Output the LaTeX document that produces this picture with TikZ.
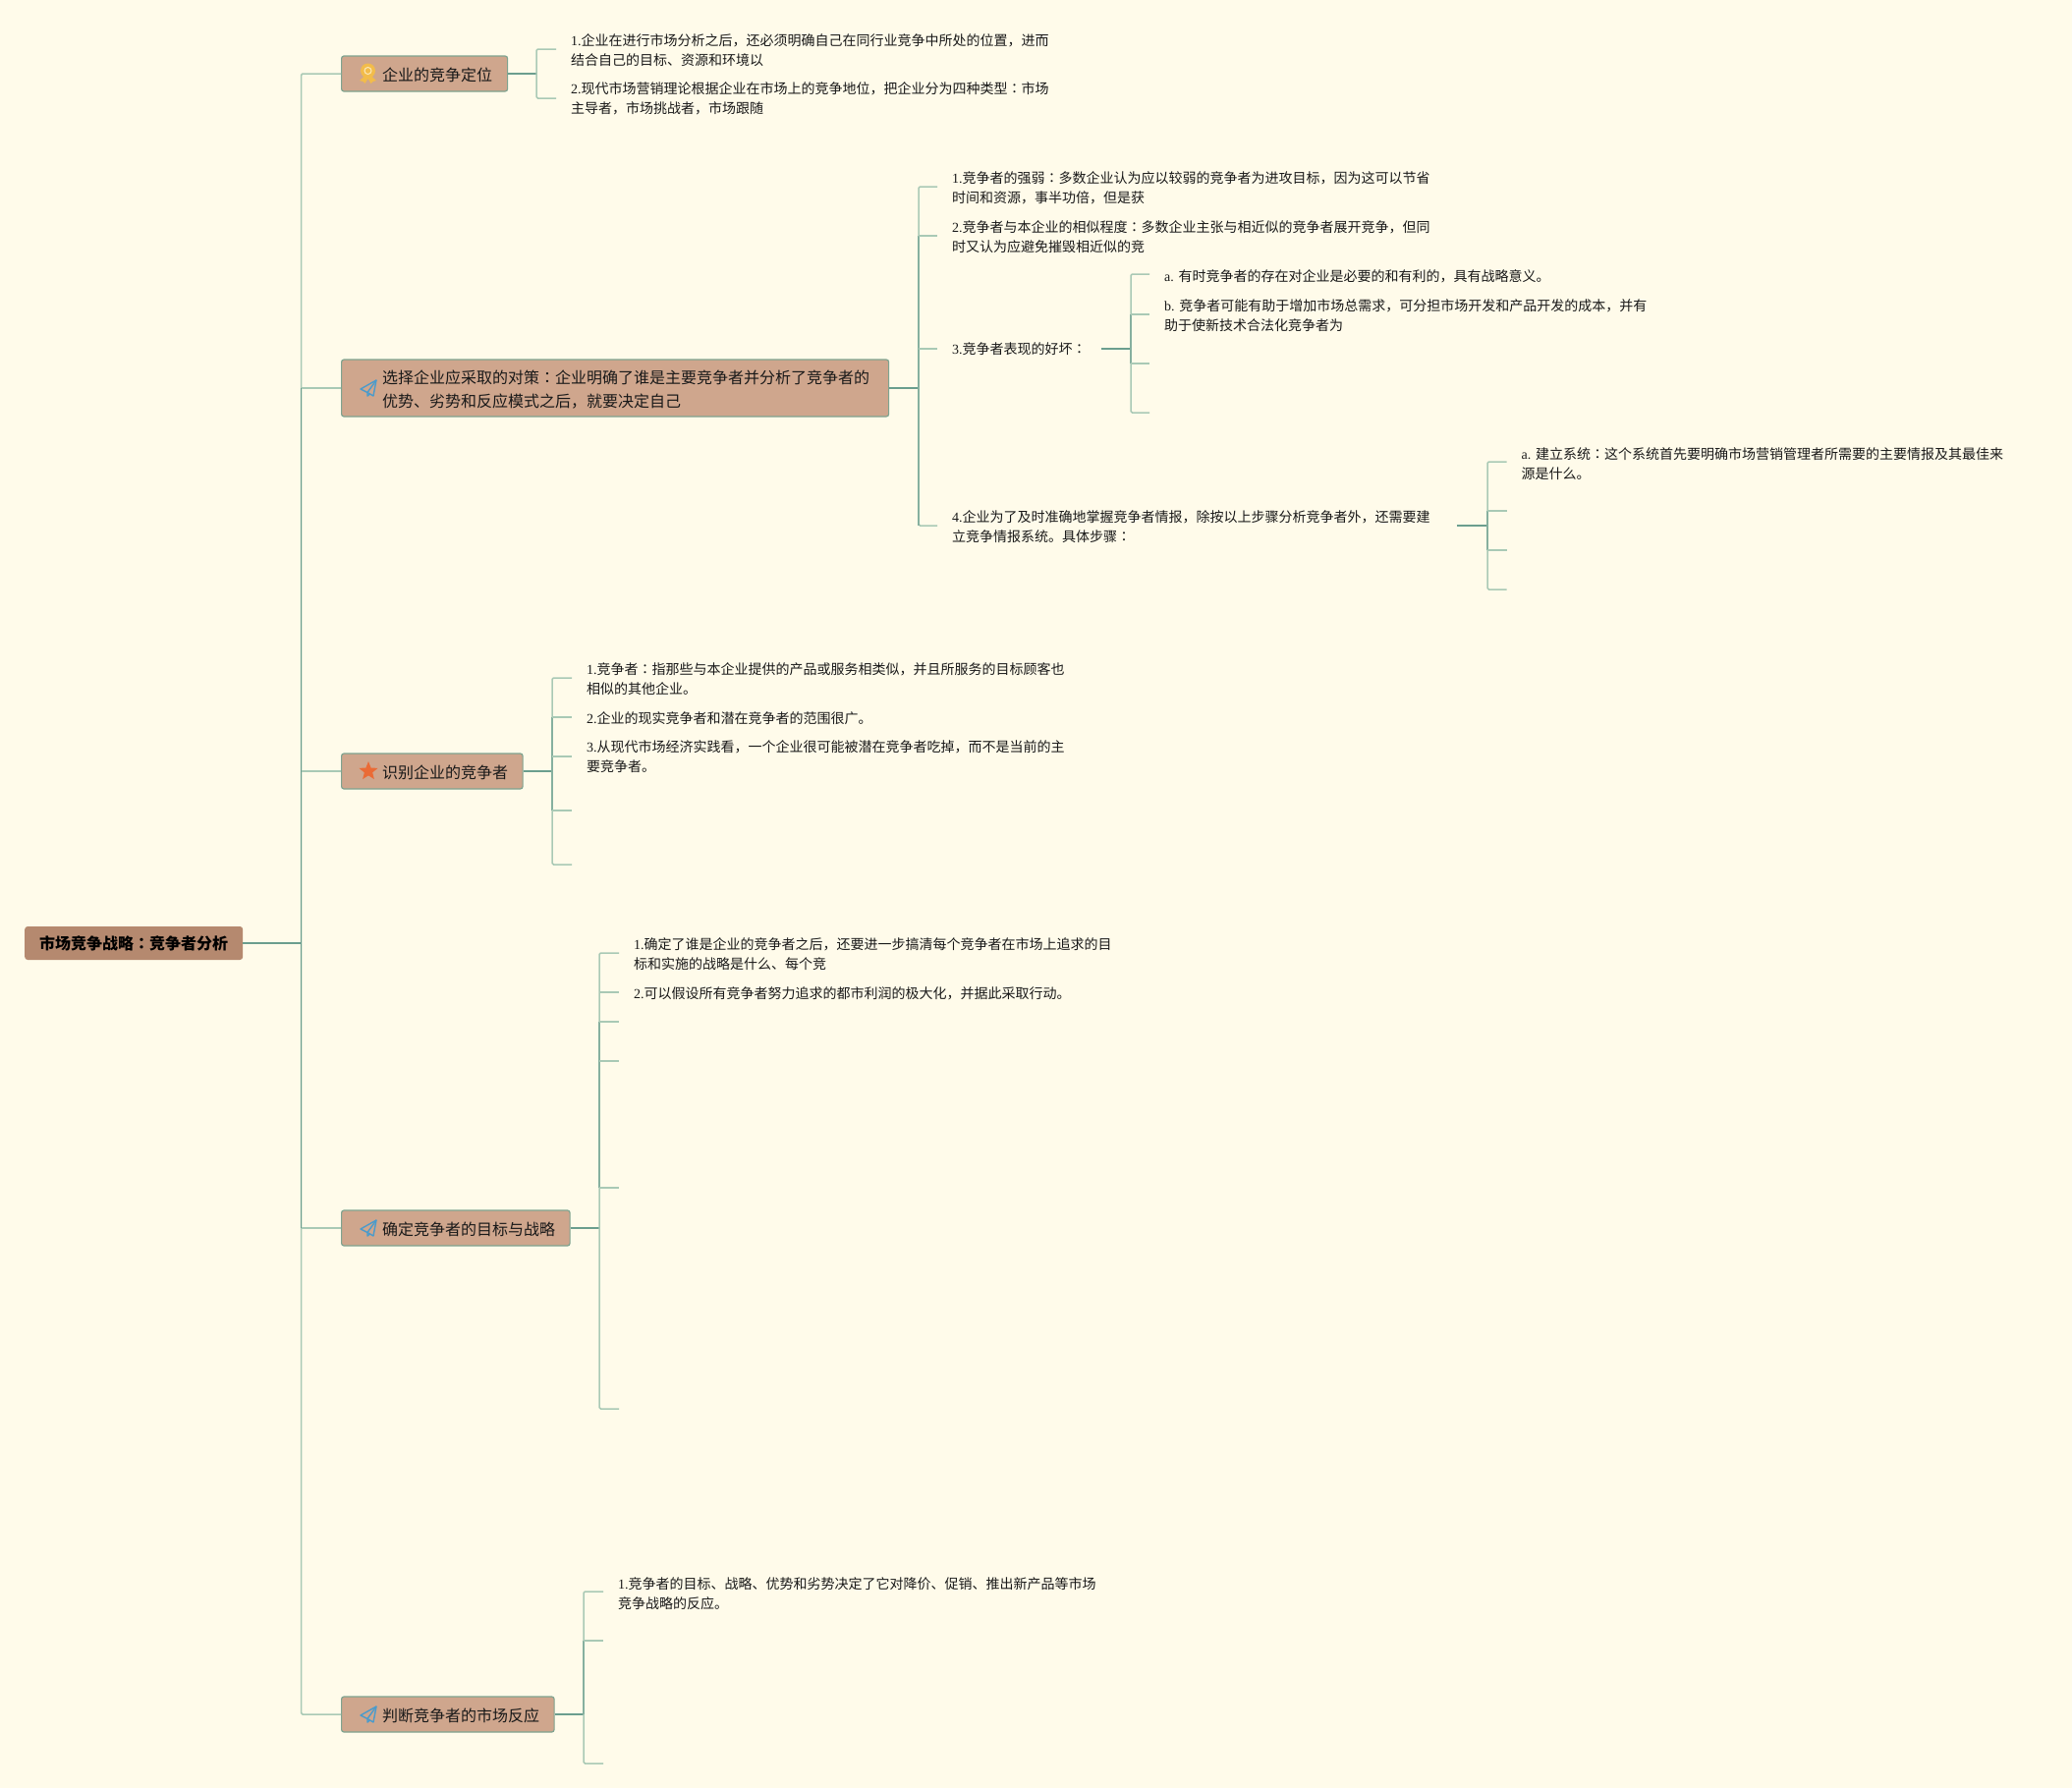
\documentclass[tikz,border=0pt]{standalone}
\usepackage{fontspec}
\setmainfont{Noto Sans CJK SC}
\newfontfamily\latnf{Liberation Serif}
\newfontfamily\tcf{Noto Sans CJK TC}
\usetikzlibrary{shapes.geometric}
\newcommand\ltn[1]{{\latnf #1}}
\newcommand\cln{{\tcf ：}}
\newcommand\bl[1]{\hspace*{41.5pt}\raisebox{-7.3pt}[0pt][0pt]{#1}}
\definecolor{bgc}{HTML}{FFFBEA}
\definecolor{boxf}{HTML}{CFA68D}
\definecolor{boxd}{HTML}{7FA38F}
\definecolor{rootf}{HTML}{B5896F}
\definecolor{lite}{HTML}{A9C9B5}
\definecolor{dark}{HTML}{6B9E8E}
\definecolor{midc}{HTML}{86B09F}
\definecolor{medal}{HTML}{F2BC4B}
\definecolor{plane}{HTML}{4B9BCB}
\definecolor{starc}{HTML}{EA6B36}
\tikzset{
  lt/.style={draw=lite,line width=1.5pt,rounded corners=1.5pt},
  dk/.style={draw=dark,line width=1.7pt},
  md/.style={draw=midc,line width=1.5pt},
  tx/.style={anchor=west,inner xsep=15pt,inner ysep=0pt,align=left,text=black!90,font=\fontsize{14}{20}\selectfont},
  branchbox/.style={anchor=west,draw=boxd,line width=1.2pt,fill=boxf,rounded corners=2.5pt,inner xsep=0pt,inner ysep=0pt,align=left,text=black!90,font=\fontsize{16}{24}\selectfont},
  rootbox/.style={anchor=west,fill=rootf,rounded corners=3pt,inner xsep=0pt,inner ysep=0pt,align=center,text=black,font=\fontsize{16}{24}\selectfont\bfseries},
  planeline/.style={draw=plane,line width=1.4pt,line join=round},
}
% name, x, text centre y, rise of the stub above the text centre, text
\newcommand\tn[5]{\node[tx,yshift=1pt] (#1) at (#2,#3) {#5};\coordinate (#1s) at ([yshift=#4pt-1pt]#1.west);}
% start, junction x, top, bottom, dark top, dark bottom
\newcommand\stem[6]{\coordinate (bxc) at (#2,0);
  \draw[dk] (#1) -- (#1 -| bxc);
  \draw[lt] (#3) -- (#3 -| bxc) -- (#4 -| bxc) -- (#4);
  \draw[md] (#5 -| bxc) -- (#6 -| bxc);}
\newcommand\stub[1]{\draw[lt] (#1 -| bxc) -- (#1);}
\newcommand\planeicon[2]{\begin{scope}[shift={(#1,#2)}]
  \draw[planeline] (-8,1) -- (8,-8) -- (5,8) -- (-1,4.5) -- cycle;
  \draw[planeline] (8,-8) -- (-1,4.5) -- (-1,8) -- (1.5,6);
\end{scope}}
\begin{document}
\begin{tikzpicture}[x=1pt,y=-1pt]
\useasboundingbox (0,0) rectangle (2109,1820);
\fill[bgc] (0,0) rectangle (2109,1820);

% root and main branches
\node[rootbox,text width=222pt,minimum height=34pt] (root) at (25,960) {市场竞争战略\cln 竞争者分析};
\node[branchbox,text width=169pt,minimum height=36pt] (b1) at (347,75) {\bl{企业的竞争定位}};
\node[branchbox,text width=557pt,minimum height=58pt] (b2) at (347,395) {\bl{选择企业应采取的对策\cln 企业明确了谁是主要竞争者并分析了竞争者的}\\\bl{优势、劣势和反应模式之后，就要决定自己}};
\node[branchbox,text width=184.5pt,minimum height=36pt] (b3) at (347,785) {\bl{识别企业的竞争者}};
\node[branchbox,text width=232.5pt,minimum height=36pt] (b4) at (347,1250) {\bl{确定竞争者的目标与战略}};
\node[branchbox,text width=216.5pt,minimum height=36pt] (b5) at (347,1745) {\bl{判断竞争者的市场反应}};

\coordinate (tr) at (306.5,0);
\draw[lt] (b1.west) -- (b1.west -| tr) -- (b5.west -| tr) -- (b5.west);
\draw[lt] (b2.west) -- (b2.west -| tr);
\draw[lt] (b3.west) -- (b3.west -| tr);
\draw[lt] (b4.west) -- (b4.west -| tr);
\draw[dk] (b2.west -| tr) -- (b4.west -| tr);
\draw[dk] (root.east) -- (root.east -| tr);

% branch 1
\tn{aa}{566}{52}{2}{\ltn{1.}企业在进行市场分析之后，还必须明确自己在同行业竞争中所处的位置，进而\\结合自己的目标、资源和环境以}
\tn{ab}{566}{101}{1}{\ltn{2.}现代市场营销理论根据企业在市场上的竞争地位，把企业分为四种类型\cln 市场\\主导者，市场挑战者，市场跟随}
\stem{b1.east}{546}{aas}{abs}{b1.east}{b1.east}

% branch 2
\tn{ca}{954}{192}{2}{\ltn{1.}竞争者的强弱\cln 多数企业认为应以较弱的竞争者为进攻目标，因为这可以节省\\时间和资源，事半功倍，但是获}
\tn{cb}{954}{242}{2}{\ltn{2.}竞争者与本企业的相似程度\cln 多数企业主张与相近似的竞争者展开竞争，但同\\时又认为应避免摧毁相近似的竞}
\tn{cc}{954}{356}{1}{\ltn{3.}竞争者表现的好坏\cln}
\tn{cd}{954}{537}{2}{\ltn{4.}企业为了及时准确地掌握竞争者情报，除按以上步骤分析竞争者外，还需要建\\立竞争情报系统。具体步骤\cln}
\stem{b2.east}{935}{cas}{cds}{cbs}{cds}
\stub{cbs}\stub{ccs}

% branch 2, item 3
\tn{da}{1170}{282}{3}{\ltn{a. }有时竞争者的存在对企业是必要的和有利的，具有战略意义。}
\tn{db}{1170}{322}{2}{\ltn{b. }竞争者可能有助于增加市场总需求，可分担市场开发和产品开发的成本，并有\\助于使新技术合法化竞争者为}
\coordinate (dc) at (1170,370);
\coordinate (dd) at (1170,420);
\coordinate (cco) at (cc.east |- ccs);
\stem{cco}{1151}{das}{dd}{dbs}{dc}
\stub{dbs}\stub{dc}

% branch 2, item 4
\tn{ea}{1533.5}{473}{3}{\ltn{a. }建立系统\cln 这个系统首先要明确市场营销管理者所需要的主要情报及其最佳来\\源是什么。}
\coordinate (eb) at (1533.5,520);
\coordinate (ec) at (1533.5,560);
\coordinate (ed) at (1533.5,600);
\coordinate (cdo) at ([xshift=12pt]cd.east |- cds);
\stem{cdo}{1514}{eas}{ed}{eb}{ec}
\stub{eb}\stub{ec}

% branch 3
\tn{fa}{582}{692}{2}{\ltn{1.}竞争者\cln 指那些与本企业提供的产品或服务相类似，并且所服务的目标顾客也\\相似的其他企业。}
\tn{fb}{582}{732}{2}{\ltn{2.}企业的现实竞争者和潜在竞争者的范围很广。}
\tn{fc}{582}{771}{1}{\ltn{3.}从现代市场经济实践看，一个企业很可能被潜在竞争者吃掉，而不是当前的主\\要竞争者。}
\coordinate (fd) at (582,825);
\coordinate (fe) at (582,880);
\stem{b3.east}{562}{fas}{fe}{fbs}{fd}
\stub{fbs}\stub{fcs}\stub{fd}

% branch 4
\tn{ga}{630}{972}{2}{\ltn{1.}确定了谁是企业的竞争者之后，还要进一步搞清每个竞争者在市场上追求的目\\标和实施的战略是什么、每个竞}
\tn{gb}{630}{1012}{2}{\ltn{2.}可以假设所有竞争者努力追求的都市利润的极大化，并据此采取行动。}
\coordinate (gc) at (630,1040);
\coordinate (gd) at (630,1080);
\coordinate (ge) at (630,1209);
\coordinate (gf) at (630,1434);
\stem{b4.east}{610}{gas}{gf}{gc}{ge}
\stub{gbs}\stub{gc}\stub{gd}\stub{ge}

% branch 5
\tn{ha}{614}{1623}{3}{\ltn{1.}竞争者的目标、战略、优势和劣势决定了它对降价、促销、推出新产品等市场\\竞争战略的反应。}
\coordinate (hb) at (614,1670);
\coordinate (hc) at (614,1795);
\stem{b5.east}{594}{has}{hc}{hb}{b5.east}
\stub{hb}

% icons
\begin{scope}[shift={(374.5,75)}]
  \fill[medal] (-3,2) -- (-8.5,7) -- (-5,8) -- (-3,10) -- (0,5) -- (3,10) -- (5,8) -- (8.5,7) -- (3,2) -- cycle;
  \fill[medal] (0,-3) circle (7.5);
  \draw[bgc!70!medal,line width=1pt] (0,-3) circle (3.5);
\end{scope}
\node[star,star points=5,star point ratio=2.3,fill=starc,draw=none,inner sep=0pt,minimum size=20pt] (staricon) at (375,785) {};
\planeicon{375}{395}
\planeicon{375}{1250}
\planeicon{375}{1745}
\end{tikzpicture}
\end{document}
